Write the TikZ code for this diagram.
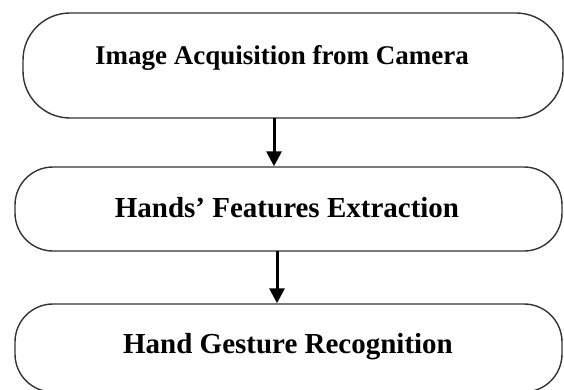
\documentclass[tikz,border=0pt]{standalone}
\usepackage{fontspec}
\setmainfont{Liberation Serif}
\usetikzlibrary{arrows.meta}
\begin{document}
\begin{tikzpicture}[x=1pt,y=-1pt,
  box/.style={draw=black!80,line width=1.4pt,fill=white,inner sep=0pt},
  txt/.style={font=\fontsize{27}{30}\selectfont\bfseries,inner sep=0pt,anchor=base},
  txtb/.style={txt,font=\fontsize{29}{32}\selectfont\bfseries},
  arr/.style={line width=3pt,-{Triangle[length=15pt,width=15pt]},shorten <=-1pt}]
\useasboundingbox (0,0) rectangle (564,390);
\node[box,minimum width=540pt,minimum height=105pt,rounded corners=47pt] (b1) at (293,65.5) {};
\node[box,minimum width=547pt,minimum height=84pt,rounded corners=38pt] (b2) at (288.5,209) {};
\node[box,minimum width=547pt,minimum height=88pt,rounded corners=38pt] (b3) at (288.5,348) {};
\node[txt] (t1) at (282,65) {Image Acquisition from Camera};
\node[txtb] (t2) at (287,217) {Hands’ Features Extraction};
\node[txtb] (t3) at (288,353) {Hand Gesture Recognition};
\coordinate (c1) at (274,0);
\coordinate (c2) at (277,0);
\draw[arr] (b1.south -| c1) -- (b2.north -| c1);
\draw[arr] (b2.south -| c2) -- (b3.north -| c2);
\end{tikzpicture}
\end{document}
